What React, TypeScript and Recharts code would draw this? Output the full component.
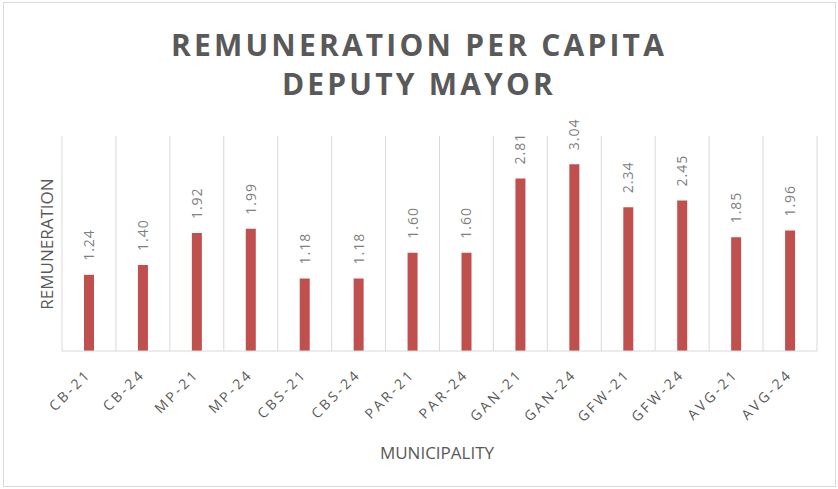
import React from "react";
import { BarChart, Bar, XAxis, YAxis, CartesianGrid, LabelList } from "recharts";

const categories = ["CB-21", "CB-24", "MP-21", "MP-24", "CBS-21", "CBS-24", "PAR-21", "PAR-24", "GAN-21", "GAN-24", "GFW-21", "GFW-24", "AVG-21", "AVG-24"];
const values = [1.24, 1.4, 1.92, 1.99, 1.18, 1.18, 1.6, 1.6, 2.81, 3.04, 2.34, 2.45, 1.85, 1.96];
const titleLines = ["REMUNERATION PER CAPITA", "DEPUTY MAYOR"];
const yTitle = "REMUNERATION";
const xTitle = "MUNICIPALITY";

const data = categories.map((c, i) => ({ name: c, value: values[i] }));

const FONT = "'Open Sans', sans-serif";

const XTick = (props: any) => {
  const { x, y, payload } = props;
  const tx = x + 3;
  const ty = y + 16;
  return (
    <text
      x={tx}
      y={ty}
      transform={`rotate(-45, ${tx}, ${ty})`}
      textAnchor="end"
      fill="#595959"
      fontSize={14}
      fontFamily={FONT}
      letterSpacing={2.8}
    >
      {payload.value}
    </text>
  );
};

const ValueLabel = (props: any) => {
  const { x, y, width, value } = props;
  const cx = x + width / 2 + 5;
  const cy = y - 14;
  return (
    <text
      x={cx}
      y={cy}
      transform={`rotate(-90, ${cx}, ${cy})`}
      textAnchor="start"
      fill="#7f7f7f"
      fontSize={14}
      fontFamily={FONT}
      letterSpacing={1}
    >
      {Number(value).toFixed(2)}
    </text>
  );
};

export default function App() {
  return (
    <div style={{ position: "absolute", left: 0, top: 0, width: 838, height: 489, background: "#fff" }}>
      <div style={{ position: "absolute", left: 3, top: 2, width: 831, height: 483, border: "1px solid #d9d9d9" }} />
      {titleLines.map((t, i) => (
        <div
          key={t}
          style={{
            position: "absolute",
            left: 0,
            width: 838,
            top: 25 + i * 39,
            textAlign: "center",
            fontFamily: FONT,
            fontWeight: 700,
            fontSize: 30,
            letterSpacing: 3.2,
            color: "#595959",
            lineHeight: "40px",
          }}
        >
          {t}
        </div>
      ))}
      <BarChart
        width={838}
        height={489}
        data={data}
        margin={{ top: 136, right: 21, bottom: 108, left: 62 }}
        style={{ position: "absolute", left: 0, top: 0 }}
      >
        <CartesianGrid
          horizontal={false}
          stroke="#d9d9d9"
          verticalCoordinatesGenerator={({ offset }: any) =>
            categories.map((_, i) => offset.left + (i * offset.width) / categories.length).concat([offset.left + offset.width])
          }
        />
        <XAxis
          dataKey="name"
          axisLine={{ stroke: "#d9d9d9" }}
          tickLine={false}
          tick={<XTick />}
          interval={0}
          height={30}
        />
        <YAxis hide domain={[0, 3.5]} />
        <Bar dataKey="value" fill="#C0504D" barSize={10} isAnimationActive={false}>
          <LabelList dataKey="value" content={<ValueLabel />} />
        </Bar>
        <text x={46} y={244} transform="rotate(-90, 46, 244)" textAnchor="middle" dominantBaseline="central" fill="#595959" fontSize={17} fontFamily={FONT}>
          {yTitle}
        </text>
        <text x={437} y={452} textAnchor="middle" dominantBaseline="central" fill="#595959" fontSize={17} fontFamily={FONT}>
          {xTitle}
        </text>
      </BarChart>
    </div>
  );
}
